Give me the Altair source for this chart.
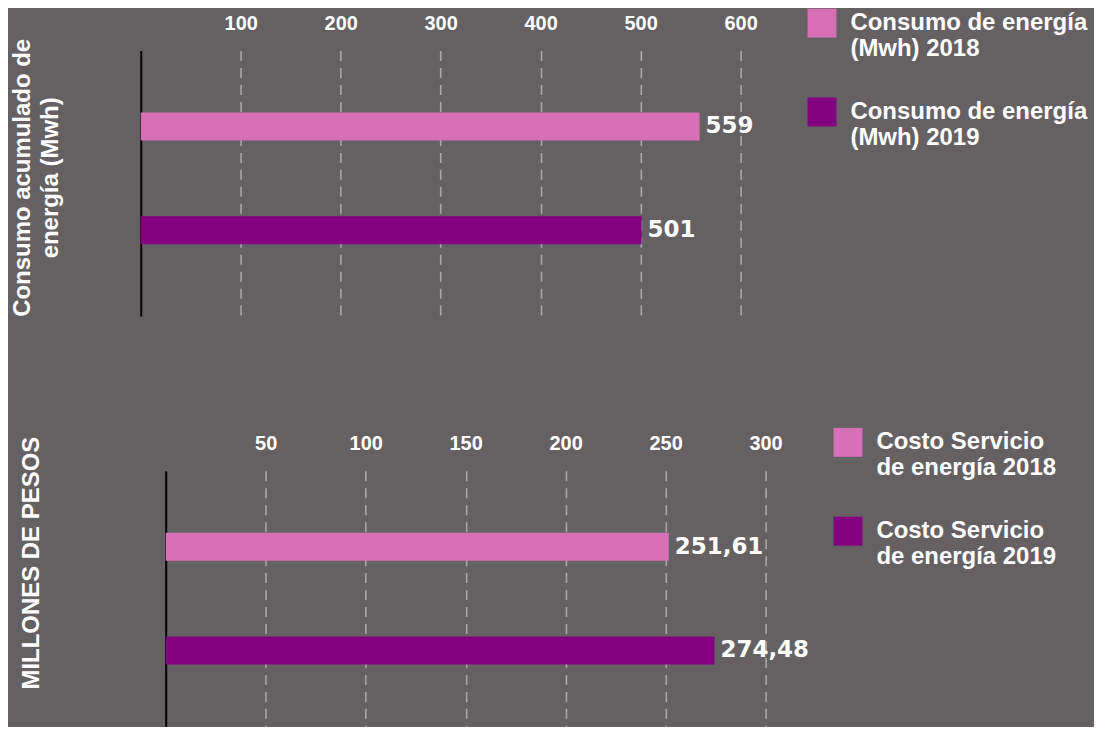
import altair as alt
import pandas as pd

# ---- data ----
top_series = ["Consumo de energía\n(Mwh) 2018", "Consumo de energía\n(Mwh) 2019"]
top_values = [559, 501]
top_labels = ["559", "501"]
top_ticks = [100, 200, 300, 400, 500, 600]
top_title = ["Consumo acumulado de", "energía (Mwh)"]

bottom_series = ["Costo Servicio\nde energía 2018", "Costo Servicio\nde energía 2019"]
bottom_values = [251.61, 274.48]
bottom_labels = ["251,61", "274,48"]
bottom_ticks = [50, 100, 150, 200, 250, 300]
bottom_title = "MILLONES DE PESOS"

colors = ["#d66fb5", "#830080"]
BG = "#656163"
FONT = "Liberation Sans"


def panel(series, values, labels, ticks, domain, title, title_x, title_y,
          axis_offset, legend_x, legend_y, height, pad_outer, align):
    df = pd.DataFrame({"serie": series, "valor": values, "etiqueta": labels})
    yscale = alt.Scale(paddingInner=0.7308, paddingOuter=pad_outer, align=align)
    y = alt.Y(
        "serie:N", sort=series, scale=yscale,
        axis=alt.Axis(
            title=title, labels=False, ticks=False, grid=False,
            domain=True, domainColor="#000000", domainWidth=2, offset=axis_offset,
            titleColor="white", titleFont=FONT, titleFontSize=24, titleFontWeight="bold",
            titleAngle=270, titleBaseline="middle", titleAlign="center",
            titleX=title_x, titleY=title_y, titleLineHeight=28,
        ),
    )
    x = alt.X(
        "valor:Q",
        scale=alt.Scale(domain=domain, nice=False, zero=False),
        axis=alt.Axis(
            orient="top", values=ticks, title=None, domain=False, ticks=False,
            labelPadding=17, labelColor="white", labelFont=FONT, labelFontSize=20,
            labelFontWeight="bold", labelFlush=False,
            grid=True, gridDash=[10, 7], gridColor="#a8a8a8", gridWidth=1.6,
        ),
    )
    bars = alt.Chart(df).mark_bar().encode(
        x=x,
        x2=alt.datum(0),
        y=y,
        color=alt.Color(
            "serie:N", sort=series,
            scale=alt.Scale(domain=series, range=colors),
            legend=alt.Legend(
                title=None, orient="none", legendX=legend_x, legendY=legend_y,
                symbolType="square", symbolSize=841, symbolStrokeWidth=0,
                symbolOpacity=1, labelColor="white", labelFont=FONT,
                labelFontSize=24, labelFontWeight="bold", labelOffset=14,
                labelLimit=400, labelExpr="split(datum.label, '\\n')",
                rowPadding=36, padding=0,
            ),
        ),
    )
    text = alt.Chart(df).mark_text(
        align="left", baseline="middle", dx=6, font="DejaVu Sans",
        fontSize=23, fontWeight="bold", color="white",
    ).encode(
        x=alt.X("valor:Q"),
        y=alt.Y("serie:N", sort=series),
        text="etiqueta:N",
    )
    return alt.layer(bars, text).properties(width=651, height=height)


top = panel(top_series, top_values, top_labels, top_ticks, [0, 650], top_title,
            -118, 127, 0, 668, -42, 266, 0.6442, 0.4627)
bottom = panel(bottom_series, bottom_values, bottom_labels, bottom_ticks,
               [-12.5, 312.5], bottom_title, -134, 92, -25, 694, -43, 256, 0.596, 0.5)

chart = (
    alt.vconcat(top, bottom, spacing=111)
    .resolve_scale(x="independent", y="independent", color="independent")
    .configure(background=BG, padding={"left": 2, "top": 0, "right": 6, "bottom": 0})
    .configure_view(strokeWidth=0)
)

chart.save("out.html", embed_options={"renderer": "svg", "actions": False})
